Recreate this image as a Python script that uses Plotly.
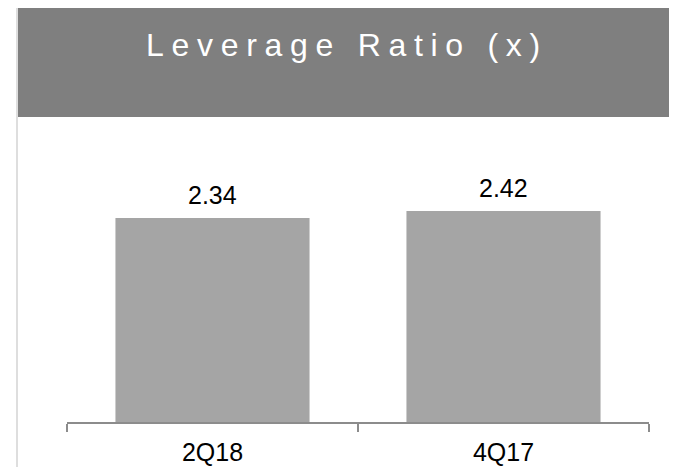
import plotly.graph_objects as go

categories = ["2Q18", "4Q17"]
values = [2.34, 2.42]
title_text = "Leverage Ratio (x)"

# page has an 8px body margin; figure sized so its right/bottom meet the window edge
OFF = 8
W, H = 677 - OFF, 467 - OFF

def px_x(p):
    return (p - OFF) / W

def px_y(p):
    return 1 - (p - OFF) / H

fig = go.Figure()
fig.add_trace(go.Bar(
    x=categories, y=values,
    marker=dict(color="#a5a5a5", line=dict(width=0)),
    hoverinfo="skip",
))

for c, v in zip(categories, values):
    fig.add_annotation(
        x=c, y=v, xref="x", yref="y", text=f"{v:.2f}",
        showarrow=False, yanchor="bottom", yshift=7,
        font=dict(family="Liberation Sans, Arial, sans-serif", size=25, color="#000000"),
    )

# frame and title band
fig.add_shape(type="rect", xref="paper", yref="paper",
              x0=px_x(17), x1=px_x(676.5), y0=px_y(490), y1=px_y(6.5),
              line=dict(color="#d4d4d4", width=1.5), fillcolor="rgba(0,0,0,0)", layer="below")
fig.add_shape(type="rect", xref="paper", yref="paper",
              x0=px_x(18), x1=px_x(676), y0=px_y(117), y1=px_y(7),
              line=dict(width=0), fillcolor="#7f7f7f", layer="below")

fig.add_annotation(
    x=px_x(347), y=px_y(45), xref="paper", yref="paper",
    text=f'<span style="letter-spacing:7.7px">{title_text}</span>',
    showarrow=False, xanchor="center", yanchor="middle",
    font=dict(family="Liberation Sans Narrow, Arial Narrow, Liberation Sans, Arial, sans-serif",
              size=32, color="#ffffff"),
)

fig.update_layout(
    width=W, height=H,
    margin=dict(l=0, r=0, t=0, b=0),
    paper_bgcolor="#ffffff", plot_bgcolor="rgba(0,0,0,0)",
    showlegend=False,
    bargap=0.333,
    xaxis=dict(
        domain=[px_x(67), px_x(649)],
        type="category", range=[-0.5, 1.5],
        showline=True, linecolor="#8c8c8c", linewidth=1.5,
        ticks="outside", tickson="boundaries", ticklen=8, tickwidth=1.5, tickcolor="#8c8c8c",
        ticklabelstandoff=7,
        showgrid=False, automargin=False,
        tickfont=dict(family="Liberation Sans, Arial, sans-serif", size=25, color="#000000"),
    ),
    yaxis=dict(
        domain=[px_y(422), px_y(117)],
        range=[0, 3.5], visible=False, showgrid=False, zeroline=False, automargin=False,
    ),
)

fig.write_html("out.html")
